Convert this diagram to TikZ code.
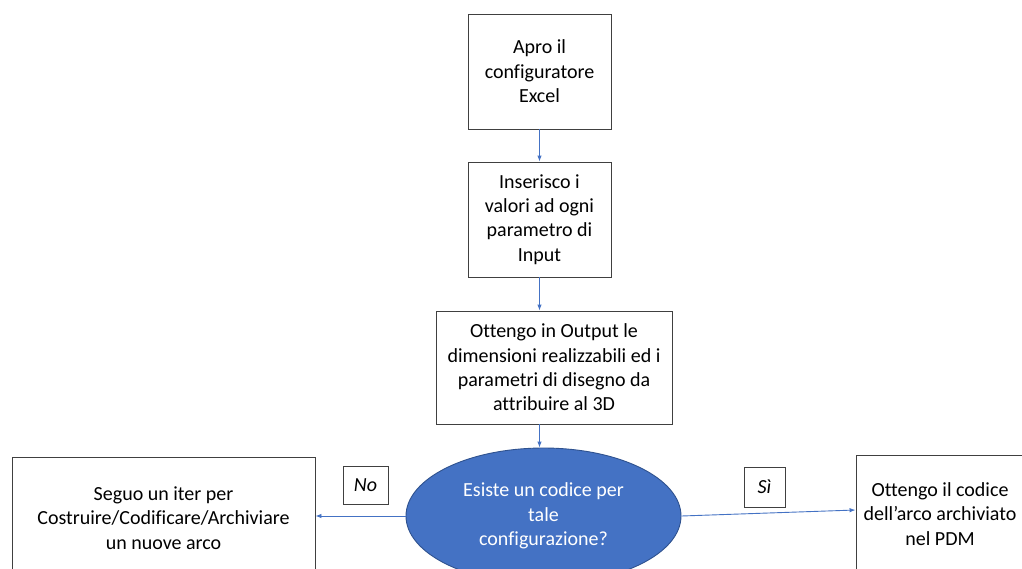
\documentclass[tikz,border=0pt]{standalone}
\usepackage{fontspec}
\setmainfont{Carlito}[Ligatures={NoCommon}]
\usetikzlibrary{arrows.meta,shapes.geometric}
\definecolor{arrowblue}{HTML}{4472C4}
\definecolor{ellfill}{HTML}{4472C4}
\definecolor{ellborder}{HTML}{2F528F}
\definecolor{boxline}{HTML}{404040}
\begin{document}
\begin{tikzpicture}[x=1pt,y=-1pt,
  every node/.style={font=\fontsize{20}{24.4}\selectfont, align=center, inner sep=0pt},
  stepbox/.style={draw=boxline, line width=0.9pt, rectangle},
  labelbox/.style={draw=boxline, line width=0.8pt, rectangle, font=\fontsize{20}{24.4}\selectfont\itshape},
  decision/.style={ellipse, draw=ellborder, line width=0.9pt, fill=ellfill, text=white},
  flow/.style={draw=arrowblue, line width=0.9pt, -{Latex[length=6pt,width=4.5pt]}}]
\clip (0,0) rectangle (1022,568);
\fill[white] (0,0) rectangle (1022,568);

\node[stepbox, minimum width=143pt, minimum height=115pt] (b1) at (539.5,71.5) {Apro il\\configuratore\\Excel};
\node[stepbox, minimum width=143pt, minimum height=115pt] (b2) at (539.5,219.5) {Inserisco i\\valori ad ogni\\parametro di\\Input};
\node[stepbox, minimum width=236pt, minimum height=113pt] (b3) at (554,367.5) {Ottengo in Output le\\dimensioni realizzabili ed i\\parametri di disegno da\\attribuire al 3D};
\node[decision, minimum width=275pt, minimum height=136pt] (e) at (543.5,516) {Esiste un codice per\\tale\\configurazione?};
\node[stepbox, minimum width=303pt, minimum height=122pt] (L) at (163.5,518) {Seguo un iter per\\Costruire/Codificare/Archiviare\\un nuove arco};
\node[stepbox, minimum width=168pt, minimum height=118pt] (R) at (940,514) {Ottengo il codice\\dell’arco archiviato\\nel PDM};
\node[labelbox, minimum width=45pt, minimum height=38pt] (no) at (365.5,485) {No};
\node[labelbox, minimum width=41pt, minimum height=40pt] (si) at (764.5,487) {Sì};

\draw[flow] (b1.south) -- (b2.north);
\draw[flow] (b2.south) -- (b2.south |- b3.north);
\draw[flow] (b2.south |- b3.south) -- (b2.south |- e.north);
\draw[flow] (e.west) -- (e.west -| L.east);
\draw[flow] (e.east) -- ([yshift=4pt]R.west);
\end{tikzpicture}
\end{document}
